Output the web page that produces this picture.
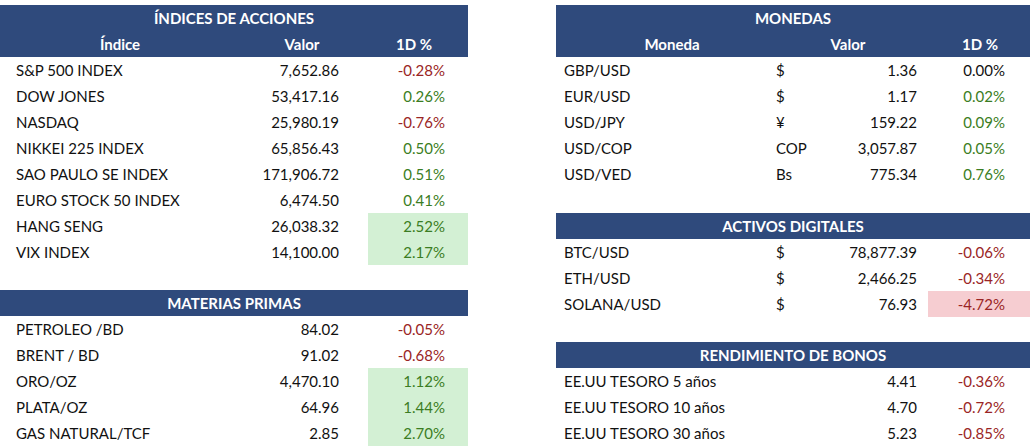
<!DOCTYPE html>
<html><head><meta charset="utf-8">
<script src="https://cdn.jsdelivr.net/npm/chart.js@4/dist/chart.umd.min.js"></script>
<style>
body{margin:0;width:1034px;height:448px;background:#fff;font-family:Lato,"Open Sans",sans-serif;font-size:15px;color:#111;position:relative;overflow:hidden}
.a{position:absolute;white-space:nowrap;line-height:26px;height:26px}
.hd{position:absolute;background:#2F4A7C;color:#fff;font-weight:bold;height:26px}
</style></head><body>
<script>
const indNames=["S&P 500 INDEX","DOW JONES","NASDAQ","NIKKEI 225 INDEX","SAO PAULO SE INDEX","EURO STOCK 50 INDEX","HANG SENG","VIX INDEX"];
const indVals=["7,652.86","53,417.16","25,980.19","65,856.43","171,906.72","6,474.50","26,038.32","14,100.00"];
const indPct=[-0.28,0.26,-0.76,0.50,0.51,0.41,2.52,2.17];
const matNames=["PETROLEO /BD","BRENT / BD","ORO/OZ","PLATA/OZ","GAS NATURAL/TCF"];
const matVals=["84.02","91.02","4,470.10","64.96","2.85"];
const matPct=[-0.05,-0.68,1.12,1.44,2.70];
const monNames=["GBP/USD","EUR/USD","USD/JPY","USD/COP","USD/VED"];
const monSym=["$","$","¥","COP","Bs"];
const monVals=["1.36","1.17","159.22","3,057.87","775.34"];
const monPct=[0.00,0.02,0.09,0.05,0.76];
const digNames=["BTC/USD","ETH/USD","SOLANA/USD"];
const digSym=["$","$","$"];
const digVals=["78,877.39","2,466.25","76.93"];
const digPct=[-0.06,-0.34,-4.72];
const bonNames=["EE.UU TESORO 5 años","EE.UU TESORO 10 años","EE.UU TESORO 30 años"];
const bonVals=["4.41","4.70","5.23"];
const bonPct=[-0.36,-0.72,-0.85];
const B=document.body;
function el(cls,x,y,w,txt,align,extra){const d=document.createElement('div');d.className=cls;d.style.left=x+'px';d.style.top=y+'px';if(w)d.style.width=w+'px';if(txt!==undefined){d.textContent=txt;}d.style.textAlign=align||'left';if(extra)Object.assign(d.style,extra);B.appendChild(d);return d;}
function hdr(x,y,w,t){const d=el('hd',x,y,w);el('a',x,y,w,t,'center',{color:'#fff',fontWeight:'bold'});}
function pctStyle(p){return p>0?'#3B7D23':(p<0?'#9A2525':'#111');}
function rows(x0,w,y0,names,vals,pcts,syms,cols){
 names.forEach((n,i)=>{const y=y0+i*26;const p=pcts[i];
  if(Math.abs(p)>1){el('a',cols.hl[0],y,cols.hl[1],'','left',{background:p>0?'#D3F0D4':'#F6CDD1'});}
  el('a',x0+8,y,null,n);
  if(syms)el('a',cols.sym,y,null,syms[i]);
  el('a',cols.val-150,y,150,vals[i],'right');
  el('a',cols.pct-100,y,100,p.toFixed(2)+'%','right',{color:pctStyle(p)});
 });}
// left
hdr(0,5,468,'ÍNDICES DE ACCIONES');
el('hd',0,31,468);
el('a',60,31,120,'Índice','center',{color:'#fff',fontWeight:'bold'});
el('a',242,31,120,'Valor','center',{color:'#fff',fontWeight:'bold'});
el('a',354,31,120,'1D %','center',{color:'#fff',fontWeight:'bold'});
const L={hl:[368,100],val:339,pct:445};
rows(8,468,57,indNames,indVals,indPct,null,L);
hdr(0,290,468,'MATERIAS PRIMAS');
rows(8,468,316,matNames,matVals,matPct,null,L);
// right
hdr(556,5,474,'MONEDAS');
el('hd',556,31,474);
el('a',612,31,120,'Moneda','center',{color:'#fff',fontWeight:'bold'});
el('a',788,31,120,'Valor','center',{color:'#fff',fontWeight:'bold'});
el('a',920,31,120,'1D %','center',{color:'#fff',fontWeight:'bold'});
const R={hl:[928,102],val:917,pct:1005,sym:776};
rows(556,474,57,monNames,monVals,monPct,monSym,R);
hdr(556,213,474,'ACTIVOS DIGITALES');
rows(556,474,239,digNames,digVals,digPct,digSym,R);
hdr(556,342,474,'RENDIMIENTO DE BONOS');
rows(556,474,368,bonNames,bonVals,bonPct,null,R);
</script>
</body></html>
